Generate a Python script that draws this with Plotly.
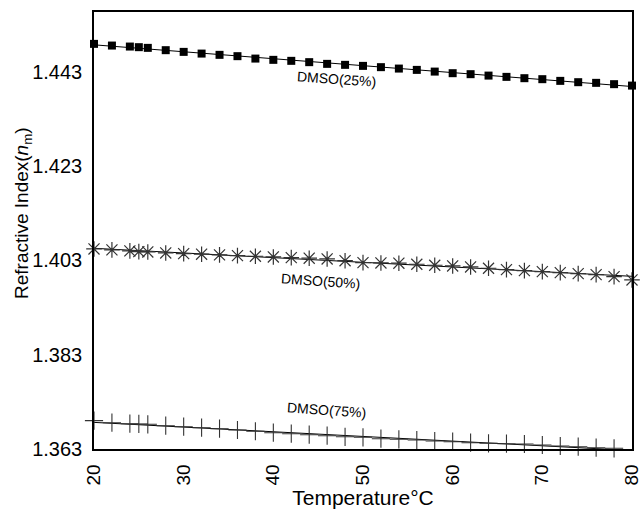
import numpy as np
import plotly.graph_objects as go

temps = [20, 22, 24, 25, 26, 28, 30, 32, 34, 36, 38, 40, 42, 44, 46, 48,
         50, 52, 54, 56, 58, 60, 62, 64, 66, 68, 70, 72, 74, 76, 78, 80]

dmso25 = [1.44894, 1.44858, 1.44837, 1.44824, 1.44809, 1.44760, 1.44724, 1.44688,
          1.44661, 1.44633, 1.44582, 1.44555, 1.44534, 1.44506, 1.44470, 1.44449,
          1.44427, 1.44400, 1.44370, 1.44342, 1.44306, 1.44272, 1.44251, 1.44221,
          1.44194, 1.44166, 1.44145, 1.44109, 1.44081, 1.44067, 1.44039, 1.44009]

dmso50 = [1.40544, 1.40523, 1.40502, 1.40487, 1.40480, 1.40459, 1.40444, 1.40432,
          1.40417, 1.40402, 1.40389, 1.40374, 1.40359, 1.40347, 1.40332, 1.40294,
          1.40253, 1.40247, 1.40241, 1.40219, 1.40198, 1.40183, 1.40162, 1.40134,
          1.40105, 1.40084, 1.40062, 1.40041, 1.40020, 1.39999, 1.39956, 1.39886]

dmso75 = [1.36901, 1.36858, 1.36837, 1.36831, 1.36824, 1.36794, 1.36773, 1.36752,
          1.36731, 1.36703, 1.36676, 1.36646, 1.36625, 1.36603, 1.36582, 1.36559,
          1.36548, 1.36519, 1.36506, 1.36491, 1.36470, 1.36455, 1.36434, 1.36421,
          1.36412, 1.36406, 1.36385, 1.36364, 1.36349, 1.36328, 1.36315, 1.36279]

series_names = ["DMSO(25%)", "DMSO(50%)", "DMSO(75%)"]
x_ticks = [20, 30, 40, 50, 60, 70, 80]
y_ticks = [1.363, 1.383, 1.403, 1.423, 1.443]

FONT = "Liberation Sans, Arial, sans-serif"

fig = go.Figure()

styles = [
    dict(symbol="square", size=8, color="black", line=dict(width=0, color="black")),
    dict(symbol="asterisk-open", size=13, color="#333333", line=dict(width=1.2, color="#333333")),
    dict(symbol="cross-thin-open", size=13, color="#333333", line=dict(width=1.1, color="#333333")),
]

xs = np.array(temps, dtype=float)
for vals, st, name in zip([dmso25, dmso50, dmso75], styles, series_names):
    coef = np.polyfit(xs, np.array(vals), 1)
    xfit = np.array([19.5, 80.0])
    fig.add_trace(go.Scatter(x=xfit, y=np.polyval(coef, xfit), mode="lines",
                             line=dict(color="black", width=1), showlegend=False,
                             hoverinfo="skip", cliponaxis=False))
    fig.add_trace(go.Scatter(x=temps, y=vals, mode="markers", name=name,
                             marker=st, showlegend=False, cliponaxis=False))

label_pos = [(47.0, 1.44151), (45.3, 1.39865), (45.9, 1.37128)]
for (lx, ly), name in zip(label_pos, series_names):
    fig.add_annotation(x=lx, y=ly, text=name, showarrow=False, textangle=4,
                       font=dict(family=FONT, size=14, color="black"))

# y-axis title (placed slightly above the axis centre, as in the reference)
fig.add_annotation(xref="paper", yref="paper", x=-0.132, y=0.54,
                   xanchor="center", yanchor="middle", textangle=-90, showarrow=False,
                   text="Refractive Index(<i>n</i><sub>m</sub>)",
                   font=dict(family=FONT, size=19, color="black"))

fig.update_layout(
    width=640, height=511,
    margin=dict(l=94, r=8, t=12, b=62, autoexpand=False),
    paper_bgcolor="white", plot_bgcolor="white",
    font=dict(family=FONT, color="black"),
)
fig.update_xaxes(
    range=[20, 80], tickvals=x_ticks, ticktext=[str(v) for v in x_ticks],
    tickangle=-90, tickfont=dict(size=19), showgrid=False, zeroline=False,
    showline=True, linecolor="black", linewidth=1.5, mirror=True,
    ticks="", ticklabelstandoff=6, ticklabeloverflow="allow", automargin=False,
    title=dict(text="Temperature°C", font=dict(size=21), standoff=6),
)
fig.update_yaxes(
    range=[1.363, 1.4557], tickvals=y_ticks, ticktext=[f"{v:.3f}" for v in y_ticks],
    tickfont=dict(size=20), showgrid=False, zeroline=False,
    showline=True, linecolor="black", linewidth=1.5, mirror=True,
    ticks="", ticklabelstandoff=6, ticklabeloverflow="allow", automargin=False,
)

fig.write_html("out.html", config={"displayModeBar": False},
               post_script="document.body.style.margin='0px';")
